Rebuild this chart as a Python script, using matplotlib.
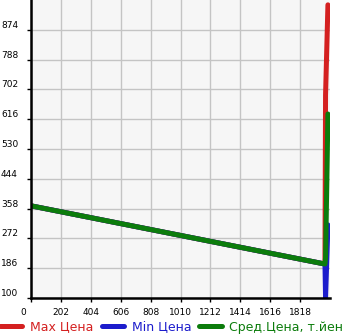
import matplotlib
matplotlib.use("Agg")
import matplotlib.pyplot as plt
import matplotlib.transforms as mtransforms

# data
x_vals = [0, 1986, 1990, 2006]
max_price = [366, 198, 686, 946]
min_price = [366, 198, 100, 311]
avg_price = [366, 198, 215, 631]
x_ticks = [0, 202, 404, 606, 808, 1010, 1212, 1414, 1616, 1818]
y_ticks = [100, 186, 272, 358, 444, 530, 616, 702, 788, 874]
labels = ["Max Цена", "Min Цена", "Сред.Цена, т.йен"]
colors = ["#d42020", "#1c1ccc", "#0c7c0c"]

fig = plt.figure(figsize=(3.45, 3.35), dpi=100)
ax = fig.add_axes([31/345, 1 - 298/335, 299/345, 298/335])
ax.set_facecolor("#f6f6f6")

for ys, c, lab in zip([max_price, min_price, avg_price], colors, labels):
    ax.plot(x_vals, ys, color=c, lw=3.6, label=lab, solid_capstyle="round",
            solid_joinstyle="round")

ax.set_xlim(0, 2020)
ax.set_ylim(100, 960)
ax.set_xticks(x_ticks)
ax.set_yticks(y_ticks, labels=[str(v) for v in y_ticks], ha="left", va="bottom")
ax.grid(True, color="#c4c4c4", lw=1)
ax.set_axisbelow(True)
for s in ["top", "right"]:
    ax.spines[s].set_visible(False)
for s in ["left", "bottom"]:
    ax.spines[s].set_linewidth(1.8)
    ax.spines[s].set_color("black")

ax.tick_params(axis="y", length=3, width=1, pad=18.6, labelsize=6.5)
ax.tick_params(axis="x", length=3, width=1, pad=4, labelsize=6.5)
# shift "0" label left
xl = ax.get_xticklabels()
xl[0].set_transform(xl[0].get_transform() + mtransforms.ScaledTranslation(-8/100, 0, fig.dpi_scale_trans))

leg = fig.legend(loc="center left", bbox_to_anchor=(0.0, 8/335), ncol=3, frameon=False,
                 fontsize=9, handlelength=1.8, handletextpad=0.6, columnspacing=0.65,
                 borderpad=0, borderaxespad=0, labelcolor="linecolor")

fig.savefig("out.png", dpi=100)
